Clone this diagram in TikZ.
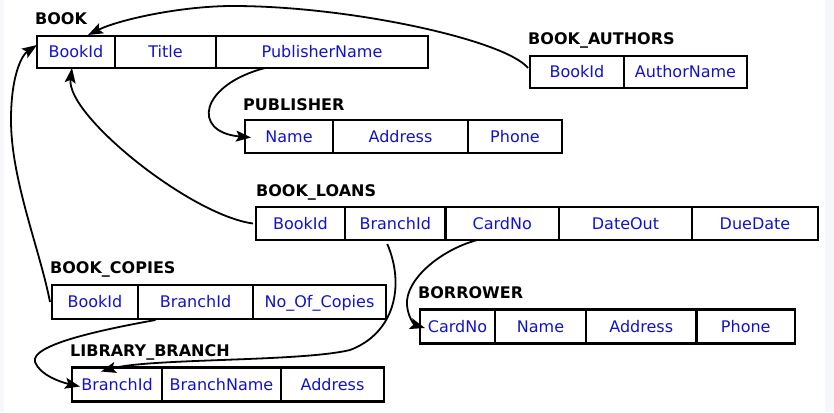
\documentclass[tikz,border=0pt]{standalone}
\usepackage{fontspec}
\setmainfont{DejaVu Sans}
\usetikzlibrary{arrows.meta}
\definecolor{fieldblue}{RGB}{18,18,200}
\definecolor{edgebg}{RGB}{245,247,250}
\begin{document}
\begin{tikzpicture}[x=1pt,y=-1pt,
  cell/.style={draw=black, line width=2.3pt, inner sep=0pt, outer sep=0pt,
    anchor=north west, text=fieldblue, font=\fontsize{16pt}{19pt}\selectfont,
    text height=11.6pt, text depth=0pt},
  tabletitle/.style={anchor=base west, inner sep=0pt, text=black,
    font=\fontsize{16pt}{19pt}\selectfont\bfseries},
  link/.style={line width=1.8pt, -{Stealth[length=15pt,width=11pt,inset=3pt]}}]
\useasboundingbox (0,0) rectangle (834,412);
\fill[edgebg] (0,0) rectangle (4,412);
\fill[edgebg] (825,0) rectangle (834,412);

% BOOK
\node[tabletitle] (tBook) at (35,25) {BOOK};
\node[cell, minimum width=78pt, minimum height=32pt] (bk1) at (37,36) {BookId};
\node[cell, minimum width=101pt, minimum height=32pt] (bk2) at (bk1.north east) {Title};
\node[cell, minimum width=212pt, minimum height=32pt] (bk3) at (bk2.north east) {PublisherName};

% BOOK_AUTHORS
\node[tabletitle] (tAuth) at (528,45) {BOOK\_AUTHORS};
\node[cell, minimum width=94pt, minimum height=32pt] (ba1) at (530,56) {BookId};
\node[cell, minimum width=123pt, minimum height=32pt] (ba2) at (ba1.north east) {AuthorName};

% PUBLISHER
\node[tabletitle] (tPub) at (243,110) {PUBLISHER};
\node[cell, minimum width=88pt, minimum height=33pt] (pb1) at (245,120) {Name};
\node[cell, minimum width=135pt, minimum height=33pt] (pb2) at (pb1.north east) {Address};
\node[cell, minimum width=94pt, minimum height=33pt] (pb3) at (pb2.north east) {Phone};

% BOOK_LOANS
\node[tabletitle] (tLoans) at (256,196) {BOOK\_LOANS};
\node[cell, minimum width=89pt, minimum height=33pt] (bl1) at (256,207) {BookId};
\node[cell, minimum width=100.5pt, minimum height=33pt] (bl2) at (bl1.north east) {BranchId};
\node[cell, minimum width=113.5pt, minimum height=33pt] (bl3) at (bl2.north east) {CardNo};
\node[cell, minimum width=133pt, minimum height=33pt] (bl4) at (bl3.north east) {DateOut};
\node[cell, minimum width=126pt, minimum height=33pt] (bl5) at (bl4.north east) {DueDate};

% BOOK_COPIES
\node[tabletitle] (tCopies) at (50,273.3) {BOOK\_COPIES};
\node[cell, minimum width=86pt, minimum height=34pt] (bc1) at (52,285) {BookId};
\node[cell, minimum width=115pt, minimum height=34pt] (bc2) at (bc1.north east) {BranchId};
\node[cell, minimum width=133pt, minimum height=34pt] (bc3) at (bc2.north east) {No\_Of\_Copies};

% BORROWER
\node[tabletitle] (tBorr) at (418,298.3) {BORROWER};
\node[cell, minimum width=75pt, minimum height=34pt] (bw1) at (420,309.5) {CardNo};
\node[cell, minimum width=91pt, minimum height=34pt] (bw2) at (bw1.north east) {Name};
\node[cell, minimum width=110.5pt, minimum height=34pt] (bw3) at (bw2.north east) {Address};
\node[cell, minimum width=98.5pt, minimum height=34pt] (bw4) at (bw3.north east) {Phone};

% LIBRARY_BRANCH
\node[tabletitle] (tLib) at (70,356.7) {LIBRARY\_BRANCH};
\node[cell, minimum width=90pt, minimum height=34pt] (lb1) at (72,367.5) {BranchId};
\node[cell, minimum width=119pt, minimum height=34pt] (lb2) at (lb1.north east) {BranchName};
\node[cell, minimum width=103pt, minimum height=34pt] (lb3) at (lb2.north east) {Address};

% connectors
\draw[link] ([xshift=-2pt,yshift=4pt]ba1.west)
  .. controls (505,40) and (350,6) .. (233,6)
  .. controls (180,6) and (118,20) .. ([xshift=12pt,yshift=1pt]bk1.north);
\draw[link] ([xshift=-57pt]bk3.south)
  .. controls (200,85) and (191,132) .. ([xshift=6pt,yshift=-1pt]pb1.west);
\draw[link] ([xshift=-3pt]bl1.west)
  .. controls (190,215) and (66,115) .. ([xshift=-4pt]bk1.south);
\draw[link] ([xshift=-2pt]bc1.west)
  .. controls (40,250) and (11,180) .. (11,120)
  .. controls (11,75) and (22,55) .. ([yshift=7pt]bk1.west);
\draw[link] ([xshift=-40pt,yshift=-1pt]bc2.south)
  .. controls (100,330) and (30,345) .. (35,362)
  .. controls (40,375) and (60,382) .. ([xshift=8pt,yshift=-2pt]lb1.west);
\draw[link] ([xshift=-8pt,yshift=-4pt]bl2.south)
  .. controls (405,285) and (395,333) .. (350,350)
  .. controls (300,362) and (150,358) .. ([xshift=-16pt,yshift=-4pt]lb1.north);
\draw[link] ([xshift=-25pt]bl3.south)
  .. controls (440,250) and (405,280) .. (407,305)
  .. controls (408,318) and (415,325) .. ([xshift=5pt,yshift=-1.5pt]bw1.west);
\end{tikzpicture}
\end{document}
